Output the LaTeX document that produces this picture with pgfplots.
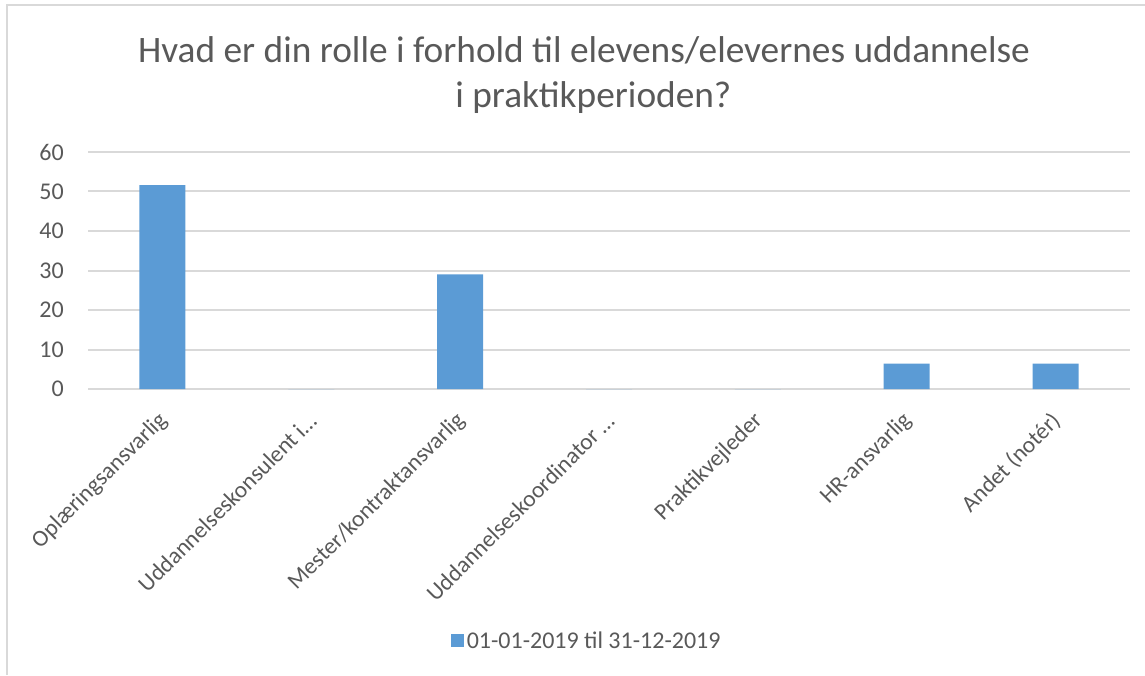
\documentclass[border=0pt]{standalone}
\usepackage{pgfplots}
\pgfplotsset{compat=1.18}
\usepackage{fontspec}
\setmainfont{Carlito}
\definecolor{barblue}{HTML}{5B9BD5}
\definecolor{gridgray}{HTML}{D9D9D9}
\definecolor{txtgray}{HTML}{595959}
\begin{document}
\begin{tikzpicture}
\path[use as bounding box] (0,0) rectangle (858.75pt,506.25pt);
\draw[gridgray, line width=1.5pt] (5.25pt,0) -- (5.25pt,502.5pt) -- (858.75pt,502.5pt);
\node[txtgray, anchor=base, inner sep=0pt, font=\fontsize{28}{32}\selectfont] at (438pt,459pt) {Hvad er din rolle i forhold til elevens/elevernes uddannelse};
\node[txtgray, anchor=base, inner sep=0pt, font=\fontsize{28}{32}\selectfont] at (445pt,425.25pt) {i praktikperioden?};
\begin{axis}[
  scale only axis,
  width=781.5pt, height=177.75pt,
  at={(66pt,214.5pt)}, anchor=south west,
  ybar, bar width=34.5pt,
  xmin=-0.5, xmax=6.5, ymin=0, ymax=60,
  ytick={0,10,...,60},
  xtick={0,1,2,3,4,5,6},
  xticklabels={Oplæringsansvarlig, Uddannelseskonsulent i…, Mester/kontraktansvarlig, Uddannelseskoordinator …, Praktikvejleder, HR-ansvarlig, Andet (notér)},
  axis line style={draw=none},
  major tick length=0pt,
  ymajorgrids, grid style={gridgray, line width=1.5pt},
  /pgf/number format/assume math mode=true,
  tick label style={txtgray, font=\fontsize{18}{21}\selectfont},
  yticklabel style={inner sep=0pt, anchor=east, xshift=-18pt},
  xticklabel style={inner sep=0pt, xshift=1pt, yshift=-21pt, anchor=east, rotate=45, font=\fontsize{17.5}{21}\selectfont},
  legend style={at={(0.479,-1.063)}, anchor=center, draw=none, fill=none,
    font=\fontsize{18}{21}\selectfont, text=txtgray},
  legend image code/.code={\fill[#1] (0pt,-4.9pt) rectangle (9.75pt,4.9pt);},
]
\addplot[fill=barblue, draw=none] coordinates {(0,51.6) (1,0) (2,29.0) (3,0) (4,0) (5,6.45) (6,6.45)};
\addlegendentry{01-01-2019 til 31-12-2019}
\end{axis}
\end{tikzpicture}
\end{document}
